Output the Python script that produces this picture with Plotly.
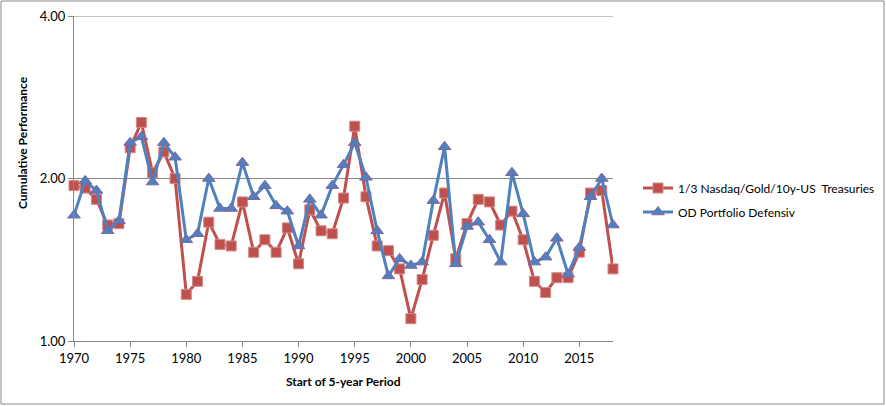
import plotly.graph_objects as go

years = list(range(1970, 2019))

nasdaq_gold_treasuries = [
    1.94, 1.92, 1.83, 1.64, 1.65, 2.28, 2.54, 2.05, 2.24, 2.00,
    1.22, 1.29, 1.66, 1.51, 1.50, 1.81, 1.46, 1.54, 1.46, 1.62,
    1.39, 1.75, 1.60, 1.58, 1.84, 2.50, 1.85, 1.50, 1.47, 1.36,
    1.10, 1.30, 1.57, 1.88, 1.42, 1.65, 1.83, 1.81, 1.64, 1.74,
    1.54, 1.29, 1.23, 1.31, 1.31, 1.46, 1.88, 1.90, 1.36,
]

od_portfolio_defensiv = [
    1.71, 1.98, 1.90, 1.60, 1.67, 2.33, 2.39, 1.97, 2.33, 2.19,
    1.54, 1.58, 2.00, 1.76, 1.76, 2.14, 1.85, 1.94, 1.78, 1.74,
    1.50, 1.83, 1.71, 1.94, 2.12, 2.33, 2.01, 1.60, 1.32, 1.42,
    1.38, 1.40, 1.82, 2.29, 1.39, 1.63, 1.66, 1.54, 1.40, 2.05,
    1.72, 1.40, 1.43, 1.55, 1.33, 1.49, 1.85, 2.00, 1.64,
]

y_tick_vals = [1, 2, 4]
y_tick_text = ["1.00", "2.00", "4.00"]
x_tick_vals = [1970, 1975, 1980, 1985, 1990, 1995, 2000, 2005, 2010, 2015]

RED = "#C0504D"
BLUE = "#4F81BD"
GRID = "#878787"
FONT = "Lato"

fig = go.Figure()
fig.add_trace(go.Scatter(
    x=years, y=nasdaq_gold_treasuries, mode="lines+markers",
    name="1/3 Nasdaq/Gold/10y-US  Treasuries", legendgroup="a",
    line=dict(color=RED, width=3),
    marker=dict(symbol="square", size=10, color=RED, line=dict(color="#D08A88", width=1)),
    cliponaxis=False,
))
fig.add_trace(go.Scatter(
    x=years, y=od_portfolio_defensiv, mode="lines+markers",
    name="OD Portfolio Defensiv", legendgroup="b",
    line=dict(color=BLUE, width=3),
    marker=dict(symbol="triangle-up", size=11, color=BLUE, line=dict(color="#8064A2", width=1)),
    cliponaxis=False,
))

L, R, T, B = 74, 273, 16, 65
W, H = 886, 406
pw = W - L - R
ph = H - T - B

fig.update_layout(
    width=W, height=H,
    margin=dict(l=L, r=R, t=T, b=B, autoexpand=False),
    paper_bgcolor="white", plot_bgcolor="white",
    font=dict(family=FONT, size=13, color="#000000"),
    showlegend=True,
    legend=dict(
        x=(638 - L) / pw, y=(341 - 200) / ph, xanchor="left", yanchor="middle",
        font=dict(family=FONT, size=12, color="#000000"),
        bgcolor="rgba(0,0,0,0)", tracegroupgap=5, itemwidth=30,
    ),
    xaxis=dict(
        range=[1970, 2018], tickvals=x_tick_vals,
        showgrid=False, zeroline=False,
        showline=True, linecolor=GRID, linewidth=1,
        ticks="outside", ticklen=5, tickcolor=GRID,
        tickfont=dict(family=FONT, size=13),
    ),
    yaxis=dict(
        type="log", range=[0, 0.60206],
        tickvals=y_tick_vals, ticktext=y_tick_text,
        showgrid=True, gridcolor=GRID, gridwidth=1,
        zeroline=False,
        showline=True, linecolor=GRID, linewidth=1,
        ticks="outside", ticklen=5, tickcolor=GRID,
        tickfont=dict(family=FONT, size=13),
    ),
    annotations=[
        dict(text="<b>Cumulative Performance</b>", xref="paper", yref="paper",
             x=(22 - L) / pw, y=(341 - 143) / ph, textangle=-90,
             showarrow=False, xanchor="center", yanchor="middle",
             font=dict(family=FONT, size=12)),
        dict(text="<b>Start of 5-year Period</b>", xref="paper", yref="paper",
             x=(343 - L) / pw, y=-(382 - 341) / ph,
             showarrow=False, xanchor="center", yanchor="middle",
             font=dict(family=FONT, size=12)),
    ],
    shapes=[
        dict(type="rect", xref="paper", yref="paper",
             x0=(1 - L) / pw, x1=(884 - L) / pw,
             y0=(341 - 404) / ph, y1=(341 - 1) / ph,
             line=dict(color=GRID, width=1), fillcolor="rgba(0,0,0,0)", layer="below"),
        dict(type="line", xref="paper", yref="y",
             x0=0, x1=1, y0=4, y1=4,
             line=dict(color=GRID, width=1), layer="below"),
    ],
)

fig.write_html("out.html", config={"displayModeBar": False},
               post_script="document.body.style.margin='0';")
